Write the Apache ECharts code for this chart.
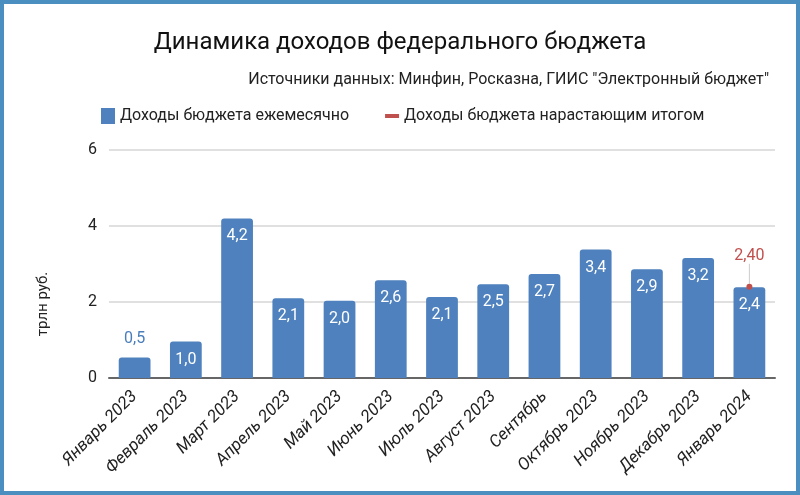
<!DOCTYPE html>
<html>
<head>
<meta charset="utf-8">
<script src="https://cdn.jsdelivr.net/npm/echarts@6/dist/echarts.min.js"></script>
<style>
  html, body { margin: 0; padding: 0; background: #fff; }
  #chart { width: 800px; height: 495px; box-sizing: border-box; border: 4px solid #4a8fbf; }
</style>
</head>
<body>
<div id="chart"></div>
<script>
var months = ["Январь 2023", "Февраль 2023", "Март 2023", "Апрель 2023", "Май 2023", "Июнь 2023",
  "Июль 2023", "Август 2023", "Сентябрь", "Октябрь 2023", "Ноябрь 2023", "Декабрь 2023", "Январь 2024"];
var monthly = [0.54, 0.96, 4.2, 2.1, 2.03, 2.57, 2.13, 2.47, 2.74, 3.38, 2.86, 3.16, 2.39];
var cumulative = [null, null, null, null, null, null, null, null, null, null, null, null, 2.40];
var yTicks = [0, 2, 4, 6];

var fmt1 = function (v) { return v.toFixed(1).replace(".", ","); };

// small first bar gets its label above, in blue
var barData = monthly.map(function (v, i) {
  if (v < 0.8) {
    return { value: v, label: { position: "top", color: "#4a7ebb" } };
  }
  return v;
});

var chart = echarts.init(document.getElementById("chart"));
chart.setOption({
  textStyle: { fontFamily: "Roboto" },
  title: [
    {
      text: "Динамика доходов федерального бюджета",
      left: "center",
      top: 22,
      textStyle: { fontSize: 24, fontWeight: "normal", color: "#111" }
    },
    {
      text: 'Источники данных: Минфин, Росказна, ГИИС "Электронный бюджет"',
      right: 22,
      top: 63,
      textStyle: { fontSize: 16, fontWeight: "normal", color: "#222" }
    }
  ],
  legend: {
    top: 99,
    left: 92,
    itemGap: 36,
    itemWidth: 14,
    itemHeight: 16,
    textStyle: { fontSize: 16, color: "#222" },
    data: [
      { name: "Доходы бюджета ежемесячно", icon: "rect" },
      { name: "Доходы бюджета нарастающим итогом", icon: "path://M0,6h14v4h-14z", itemStyle: { color: "#c0504d" } }
    ]
  },
  grid: { left: 105, right: 21, top: 146, bottom: 113 },
  xAxis: {
    type: "category",
    data: months,
    axisTick: { show: false },
    axisLine: { lineStyle: { color: "#666", width: 2 } },
    axisLabel: {
      rotate: 45,
      interval: 0,
      fontSize: 17,
      fontStyle: "italic",
      color: "#222",
      margin: 16
    }
  },
  yAxis: {
    type: "value",
    min: yTicks[0],
    max: yTicks[yTicks.length - 1],
    interval: 2,
    name: "трлн руб.",
    nameLocation: "middle",
    nameGap: 58,
    nameTextStyle: { fontSize: 15, color: "#222", padding: [0, 0, 0, -80] },
    axisLine: { show: false },
    axisTick: { show: false },
    axisLabel: { fontSize: 16, color: "#222", margin: 12 },
    splitLine: { lineStyle: { color: "#d6d6d6", width: 1.5 } }
  },
  series: [
    {
      name: "Доходы бюджета ежемесячно",
      type: "bar",
      data: barData,
      barWidth: "62%",
      itemStyle: { color: "#4e81bd", borderRadius: [3, 3, 0, 0] },
      label: {
        show: true,
        position: "insideTop",
        distance: 10,
        color: "#fff",
        fontSize: 16,
        formatter: function (p) { return fmt1(p.value); }
      }
    },
    {
      name: "Доходы бюджета нарастающим итогом",
      type: "line",
      data: cumulative,
      symbol: "circle",
      symbolSize: 6,
      itemStyle: { color: "#c0504d" },
      lineStyle: { color: "#c0504d" },
      label: {
        show: true,
        position: "top",
        distance: 4,
        color: "#c0504d",
        fontSize: 16,
        formatter: function (p) { return p.value.toFixed(2).replace(".", ","); }
      },
      labelLayout: { dy: -16 },
      labelLine: { show: true, lineStyle: { color: "#ccc", width: 1 } },
      z: 5
    }
  ]
});
</script>
</body>
</html>
